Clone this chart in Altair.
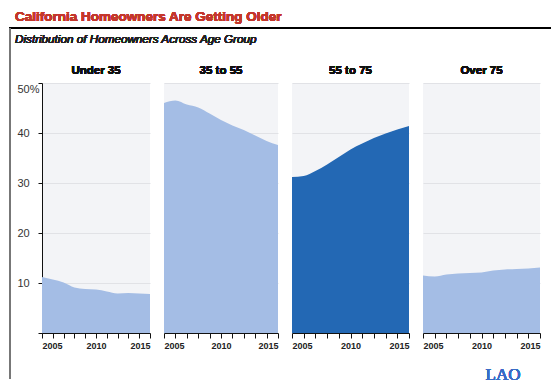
import altair as alt
import pandas as pd

years = list(range(2005, 2016))
groups = ["Under 35", "35 to 55", "55 to 75", "Over 75"]
under_35 = [11.2, 10.7, 10.1, 9.1, 8.8, 8.7, 8.3, 7.9, 8.0, 7.9, 7.8]
from_35_to_55 = [46.0, 46.5, 45.7, 45.1, 43.9, 42.6, 41.5, 40.6, 39.5, 38.4, 37.6]
from_55_to_75 = [31.2, 31.4, 32.4, 33.7, 35.2, 36.7, 37.9, 39.0, 39.9, 40.7, 41.4]
over_75 = [11.5, 11.3, 11.7, 11.9, 12.0, 12.1, 12.5, 12.7, 12.8, 12.9, 13.1]
series = [under_35, from_35_to_55, from_55_to_75, over_75]
colors = ["#a4bde5", "#a4bde5", "#2368b4", "#a4bde5"]
y_ticks = [0, 10, 20, 30, 40, 50]

title_text = "California Homeowners Are Getting Older"
subtitle_text = "Distribution of Homeowners Across Age Group"
source_text = "LAO"

FONT = "Liberation Sans"
WIDTHS = [108, 114, 117, 117]
H = 250

panels = []
for i, (g, vals, col, W) in enumerate(zip(groups, series, colors, WIDTHS)):
    df = pd.DataFrame({"year": years, "share": vals})
    if i == 0:
        yaxis = alt.Axis(values=y_ticks, grid=True, gridColor="#e1e2e6", domainColor="#111",
                         tickColor="#111", tickSize=4, labelAlign="left", labelPadding=21,
                         labelFlush=True, labelFont=FONT, labelFontSize=11, labelColor="#333",
                         labelExpr="datum.value == 50 ? '50%' : datum.value == 0 ? '' : datum.label",
                         title=None)
    else:
        yaxis = alt.Axis(values=y_ticks, grid=True, gridColor="#e1e2e6", domain=False,
                         ticks=False, labels=False, title=None)
    xaxis = alt.Axis(values=years, format="d", grid=False, domainColor="#111", tickColor="#111",
                     tickSize=5, labelFont=FONT, labelFontSize=9, labelFontWeight="bold",
                     labelColor="#222", labelPadding=3,
                     labelExpr="datum.value % 5 == 0 ? datum.label : ''", title=None)
    area = alt.Chart(df).mark_area(color=col, opacity=1, interpolate="monotone").encode(
        x=alt.X("year:Q", scale=alt.Scale(domain=[2005, 2015], nice=False), axis=xaxis),
        y=alt.Y("share:Q", scale=alt.Scale(domain=[0, 50], nice=False), axis=yaxis),
    )
    header = alt.Chart(df).mark_text(
        align="center", baseline="middle", font=FONT, fontSize=11.5, fontWeight="bold",
        color="#111").encode(x=alt.value(W / 2), y=alt.value(-12), text=alt.value(g))
    layers = [area, header]
    if i == 0:
        layers.append(alt.Chart(df).mark_text(
            align="left", baseline="middle", font=FONT, fontSize=13.5, fontWeight="bold",
            color="#c4372c").encode(x=alt.value(-27), y=alt.value(-66), text=alt.value(title_text)))
        layers.append(alt.Chart(df).mark_rule(color="#000", strokeWidth=2).encode(
            x=alt.value(-33), x2=alt.value(509), y=alt.value(-55)))
        layers.append(alt.Chart(df).mark_rule(color="#777", strokeWidth=1.5).encode(
            x=alt.value(-32), y=alt.value(-55), y2=alt.value(296)))
        layers.append(alt.Chart(df).mark_text(
            align="left", baseline="middle", font=FONT, fontSize=11.7, fontStyle="italic",
            color="#222").encode(x=alt.value(-27), y=alt.value(-44), text=alt.value(subtitle_text)))
    if i == 3:
        layers.append(alt.Chart(df).mark_text(
            align="center", baseline="middle", font="Liberation Serif", fontSize=17,
            color="#3a6cc6").encode(x=alt.value(80), y=alt.value(292), text=alt.value(source_text)))
    panel = alt.layer(*layers).properties(width=W, height=H)
    panels.append(panel)

chart = alt.hconcat(*panels, spacing=14, bounds="flush").properties(
    padding={"left": 0, "top": 2, "right": 0, "bottom": 0}
).configure_view(fill="#f3f4f7", stroke=None)

chart.save("out.html", embed_options={"renderer": "svg", "actions": False})
